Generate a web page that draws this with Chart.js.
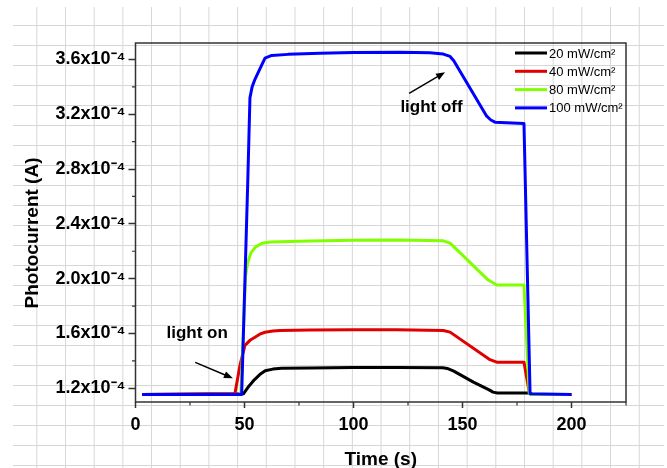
<!DOCTYPE html>
<html lang="en">
<head>
  <meta charset="UTF-8">
  <title>Photocurrent vs Time</title>
  <style>
    html, body {
      margin: 0;
      padding: 0;
      background: #fff;
    }
    /* spreadsheet cells behind the plot */
    #sheet {
      position: absolute;
      left: 13px;
      top: 7px;
      width: 651px;
      height: 461px;
      background-image:
        linear-gradient(to right, #d6d6d6 1px, transparent 1px),
        linear-gradient(to bottom, #d6d6d6 1px, transparent 1px);
      background-size: 28.7px 20px;
      background-position: 23.3px 18px;
    }
    #chartBox {
      position: absolute;
      left: 0;
      top: 0;
      width: 667px;
      height: 468px;
    }
  </style>
</head>
<body>
  <div id="sheet"></div>
  <div id="chartBox">
    <canvas id="myChart" width="667" height="468"></canvas>
  </div>

  <script src="https://cdn.jsdelivr.net/npm/chart.js"></script>
  <script>
    // series names / colours
    const seriesLabels = ['20 mW/cm²', '40 mW/cm²', '80 mW/cm²', '100 mW/cm²'];
    const seriesColors = ['#000000', '#e00000', '#80ff00', '#0000ff'];

    // time (s) and photocurrent (x10^-4 A)
    const time20 = [3, 49.5, 52, 54.5, 57, 59.5, 63, 67, 80, 100, 120, 141, 143, 146, 155, 162, 164, 166, 181, 182, 200];
    const current20 = [1.155, 1.16, 1.215, 1.262, 1.3, 1.328, 1.34, 1.346, 1.349, 1.351, 1.352, 1.35, 1.345, 1.325, 1.245, 1.19, 1.172, 1.166, 1.166, 1.155, 1.155];

    const time40 = [3, 45.6, 47.9, 50.2, 52.5, 54.8, 57, 59.4, 63, 66.3, 80, 100, 120, 141.2, 144.3, 162.6, 165.7, 178.2, 180.6, 181.5, 200];
    const current40 = [1.155, 1.16, 1.367, 1.513, 1.55, 1.573, 1.595, 1.609, 1.618, 1.622, 1.625, 1.627, 1.628, 1.622, 1.61, 1.409, 1.391, 1.391, 1.173, 1.155, 1.155];

    const time80 = [3, 48.3, 50.5, 51.5, 53, 55, 58, 62, 80, 100, 120, 141.2, 144.3, 161.8, 165.7, 178.2, 180.6, 181.5, 200];
    const current80 = [1.155, 1.155, 2.02, 2.12, 2.19, 2.23, 2.258, 2.268, 2.275, 2.28, 2.282, 2.276, 2.26, 1.99, 1.954, 1.954, 1.166, 1.155, 1.155];

    const time100 = [3, 48.7, 51.5, 52.5, 53.5, 54.8, 57, 59.4, 62.5, 70, 84.6, 100, 121.3, 135, 141.2, 144.3, 146, 161.1, 163, 164.9, 178.2, 181, 200];
    const current100 = [1.155, 1.155, 2.71, 3.32, 3.4, 3.455, 3.53, 3.61, 3.629, 3.637, 3.646, 3.65, 3.653, 3.648, 3.639, 3.622, 3.59, 3.186, 3.158, 3.142, 3.132, 1.161, 1.155];

    // axis ticks
    const xTickValues = [0, 50, 100, 150, 200];
    const xMinorValues = [25, 75, 125, 175, 225];
    const yTickValues = [1.2, 1.6, 2.0, 2.4, 2.8, 3.2, 3.6];
    const yMinorValues = [1.4, 1.8, 2.2, 2.6, 3.0, 3.4];

    // annotation anchors in data units (time, x10^-4 A)
    const notes = [
      { text: 'light on', at: [28.3, 1.6], from: [27.4, 1.389], to: [44.7, 1.273] },
      { text: 'light off', at: [135.8, 3.25], from: [125.5, 3.353], to: [142, 3.506] }
    ];

    const FONT = 'Arial, "Liberation Sans", sans-serif';
    const AXIS_COLOR = '#333333';

    const seriesTimes = [time20, time40, time80, time100];
    const seriesValues = [current20, current40, current80, current100];

    const datasets = seriesLabels.map((label, i) => ({
      label: label,
      data: seriesTimes[i].map((t, j) => ({ x: t, y: seriesValues[i][j] })),
      borderColor: seriesColors[i],
      backgroundColor: seriesColors[i],
      borderWidth: 3,
      borderJoinStyle: 'round',
      pointRadius: 0,
      tension: 0,
      fill: false,
      order: seriesLabels.length - i
    }));

    // frame, minor ticks, titles, legend and the two arrows
    const decorPlugin = {
      id: 'decor',
      afterDraw(chart) {
        const ctx = chart.ctx;
        const area = chart.chartArea;
        const xs = chart.scales.x;
        const ys = chart.scales.y;
        ctx.save();

        // frame
        ctx.strokeStyle = AXIS_COLOR;
        ctx.lineWidth = 1.5;
        ctx.strokeRect(area.left, area.top, area.right - area.left, area.bottom - area.top);

        // minor ticks
        ctx.lineWidth = 1.2;
        ctx.beginPath();
        xMinorValues.forEach(v => {
          const px = xs.getPixelForValue(v);
          ctx.moveTo(px, area.bottom);
          ctx.lineTo(px, area.bottom + 3.5);
        });
        yMinorValues.forEach(v => {
          const py = ys.getPixelForValue(v);
          ctx.moveTo(area.left, py);
          ctx.lineTo(area.left - 3.5, py);
        });
        ctx.stroke();

        // axis titles
        ctx.fillStyle = '#000';
        ctx.font = 'bold 19px ' + FONT;
        ctx.textAlign = 'center';
        ctx.textBaseline = 'middle';
        ctx.fillText('Time (s)', (area.left + area.right) / 2, 460);
        ctx.save();
        ctx.translate(32.5, 233);
        ctx.rotate(-Math.PI / 2);
        ctx.fillText('Photocurrent (A)', 0, 0);
        ctx.restore();

        // legend, top right inside the frame
        ctx.font = '13px ' + FONT;
        ctx.textAlign = 'left';
        chart.data.datasets.forEach((ds, i) => {
          const y = area.top + 10 + i * 18.3;
          ctx.strokeStyle = ds.borderColor;
          ctx.lineWidth = 3;
          ctx.beginPath();
          ctx.moveTo(area.right - 111, y);
          ctx.lineTo(area.right - 79, y);
          ctx.stroke();
          ctx.fillStyle = '#000';
          ctx.fillText(ds.label, area.right - 77, y + 1);
        });

        // annotations
        notes.forEach(n => {
          ctx.fillStyle = '#000';
          ctx.font = 'bold 17px ' + FONT;
          ctx.textAlign = 'center';
          ctx.textBaseline = 'middle';
          ctx.fillText(n.text, xs.getPixelForValue(n.at[0]), ys.getPixelForValue(n.at[1]));

          const x1 = xs.getPixelForValue(n.from[0]), y1 = ys.getPixelForValue(n.from[1]);
          const x2 = xs.getPixelForValue(n.to[0]), y2 = ys.getPixelForValue(n.to[1]);
          const ang = Math.atan2(y2 - y1, x2 - x1);
          const head = 9, half = 3.5;
          ctx.strokeStyle = '#000';
          ctx.lineWidth = 1.5;
          ctx.beginPath();
          ctx.moveTo(x1, y1);
          ctx.lineTo(x2 - Math.cos(ang) * head * 0.8, y2 - Math.sin(ang) * head * 0.8);
          ctx.stroke();
          ctx.beginPath();
          ctx.moveTo(x2, y2);
          ctx.lineTo(x2 - Math.cos(ang) * head - Math.sin(ang) * half, y2 - Math.sin(ang) * head + Math.cos(ang) * half);
          ctx.lineTo(x2 - Math.cos(ang) * head + Math.sin(ang) * half, y2 - Math.sin(ang) * head - Math.cos(ang) * half);
          ctx.closePath();
          ctx.fill();
        });

        ctx.restore();
      }
    };

    const ctx = document.getElementById('myChart').getContext('2d');
    const chart = new Chart(ctx, {
      type: 'line',
      data: { datasets: datasets },
      options: {
        responsive: false,
        animation: false,
        devicePixelRatio: 1,
        layout: { padding: { top: 43, right: 41, bottom: 0, left: 0 } },
        plugins: {
          legend: { display: false },
          tooltip: { enabled: false }
        },
        scales: {
          x: {
            type: 'linear',
            min: 0,
            max: 225,
            afterBuildTicks: s => { s.ticks = xTickValues.map(v => ({ value: v })); },
            afterFit: s => { s.height = 66; },
            grid: { drawOnChartArea: false, color: AXIS_COLOR, tickLength: 6, tickWidth: 1.5 },
            border: { display: false },
            ticks: {
              color: '#000',
              padding: 6,
              maxRotation: 0,
              font: { family: FONT, size: 18, weight: 'bold' }
            }
          },
          y: {
            type: 'linear',
            min: 1.1,
            max: 3.72,
            afterBuildTicks: s => { s.ticks = yTickValues.map(v => ({ value: v })); },
            afterFit: s => { s.width = 135.5; },
            grid: { drawOnChartArea: false, color: AXIS_COLOR, tickLength: 7, tickWidth: 1.5 },
            border: { display: false },
            ticks: {
              color: '#000',
              padding: 3,
              font: { family: FONT, size: 18, weight: 'bold' },
              callback: v => v.toFixed(1) + 'x10⁻⁴'
            }
          }
        }
      },
      plugins: [decorPlugin]
    });
  </script>
</body>
</html>
